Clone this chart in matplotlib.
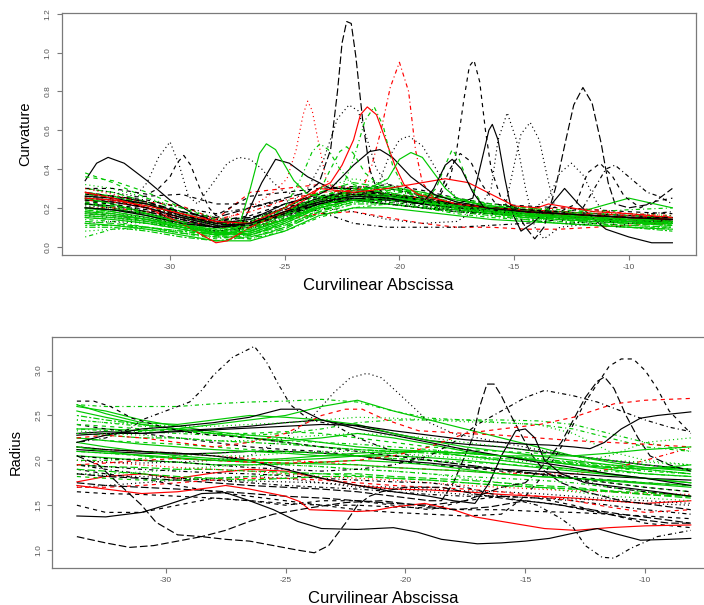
import matplotlib
matplotlib.use("Agg")
import matplotlib.pyplot as plt

plt.rcParams["font.family"] = ["Liberation Sans", "DejaVu Sans"]
plt.rcParams["axes.unicode_minus"] = False
plt.rcParams["lines.scale_dashes"] = False

# Shared abscissa knots (curvilinear abscissa)
KNOTS = [-33.7, -32.5, -31, -29.5, -28, -26.5, -25, -23.5, -22, -20.5, -19,
         -17.5, -16, -14.5, -13, -11.5, -10, -8.1]

# ---------------- Curvature profiles ----------------
# green group
curv_g01 = [0.22, 0.2, 0.16, 0.12, 0.08, 0.1, 0.18, 0.25, 0.28, 0.26, 0.24, 0.21, 0.19, 0.17, 0.16, 0.15, 0.14, 0.13]
curv_g02 = [0.18, 0.16, 0.13, 0.09, 0.06, 0.08, 0.15, 0.22, 0.26, 0.25, 0.22, 0.2, 0.18, 0.16, 0.15, 0.13, 0.12, 0.11]
curv_g03 = [0.26, 0.24, 0.2, 0.15, 0.1, 0.12, 0.2, 0.28, 0.3, 0.27, 0.24, 0.22, 0.2, 0.18, 0.17, 0.16, 0.15, 0.14]
curv_g04 = [0.14, 0.13, 0.1, 0.07, 0.04, 0.06, 0.12, 0.2, 0.24, 0.23, 0.21, 0.19, 0.17, 0.15, 0.13, 0.12, 0.1, 0.09]
curv_g05 = [0.3, 0.28, 0.23, 0.17, 0.12, 0.13, 0.2, 0.28, 0.33, 0.3, 0.27, 0.24, 0.21, 0.19, 0.17, 0.16, 0.15, 0.15]
curv_g06 = [0.1, 0.1, 0.08, 0.05, 0.03, 0.05, 0.1, 0.17, 0.22, 0.22, 0.2, 0.18, 0.16, 0.14, 0.12, 0.11, 0.1, 0.08]
curv_g07 = [0.2, 0.18, 0.15, 0.11, 0.07, 0.06, 0.12, 0.2, 0.24, 0.22, 0.2, 0.19, 0.17, 0.15, 0.14, 0.13, 0.12, 0.12]
curv_g08 = [0.38, 0.33, 0.25, 0.18, 0.12, 0.13, 0.18, 0.26, 0.3, 0.28, 0.25, 0.22, 0.2, 0.18, 0.16, 0.14, 0.12, 0.11]
curv_g09 = [0.16, 0.15, 0.12, 0.1, 0.08, 0.1, 0.16, 0.23, 0.27, 0.28, 0.25, 0.21, 0.18, 0.16, 0.14, 0.13, 0.13, 0.12]
curv_g10 = [0.05, 0.09, 0.1, 0.08, 0.05, 0.04, 0.08, 0.15, 0.2, 0.22, 0.2, 0.17, 0.15, 0.14, 0.12, 0.11, 0.1, 0.1]
curv_g16 = [0.12, 0.11, 0.09, 0.06, 0.03, 0.03, 0.08, 0.16, 0.2, 0.2, 0.18, 0.16, 0.14, 0.13, 0.12, 0.11, 0.1, 0.09]
curv_g17 = [0.24, 0.22, 0.18, 0.13, 0.08, 0.07, 0.12, 0.2, 0.26, 0.3, 0.27, 0.22, 0.19, 0.17, 0.16, 0.15, 0.14, 0.13]
curv_g18 = [0.32, 0.3, 0.25, 0.2, 0.15, 0.14, 0.2, 0.3, 0.35, 0.32, 0.27, 0.24, 0.22, 0.2, 0.18, 0.17, 0.17, 0.16]
curv_g19 = [0.2, 0.19, 0.17, 0.13, 0.09, 0.09, 0.14, 0.23, 0.3, 0.3, 0.26, 0.22, 0.2, 0.19, 0.18, 0.17, 0.16, 0.15]
curv_g20 = [0.13, 0.12, 0.1, 0.07, 0.05, 0.05, 0.09, 0.18, 0.25, 0.24, 0.22, 0.2, 0.18, 0.16, 0.14, 0.12, 0.11, 0.1]
curv_g21 = [0.28, 0.26, 0.22, 0.16, 0.11, 0.1, 0.14, 0.22, 0.28, 0.27, 0.24, 0.21, 0.19, 0.18, 0.17, 0.16, 0.15, 0.14]
curv_g22 = [0.17, 0.16, 0.14, 0.11, 0.09, 0.11, 0.17, 0.24, 0.29, 0.31, 0.28, 0.24, 0.21, 0.19, 0.17, 0.15, 0.14, 0.13]
curv_g23 = [0.22, 0.21, 0.17, 0.12, 0.06, 0.04, 0.1, 0.19, 0.23, 0.25, 0.23, 0.2, 0.18, 0.16, 0.15, 0.14, 0.13, 0.12]
curv_g24 = [0.08, 0.09, 0.09, 0.07, 0.05, 0.06, 0.11, 0.19, 0.23, 0.22, 0.2, 0.18, 0.16, 0.15, 0.13, 0.12, 0.11, 0.1]
curv_g25 = [0.27, 0.25, 0.21, 0.16, 0.12, 0.12, 0.17, 0.25, 0.31, 0.29, 0.26, 0.23, 0.21, 0.2, 0.19, 0.18, 0.19, 0.2]
curv_g26 = [0.19, 0.17, 0.14, 0.1, 0.06, 0.06, 0.11, 0.18, 0.23, 0.24, 0.22, 0.19, 0.17, 0.16, 0.15, 0.14, 0.12, 0.11]
curv_g27 = [0.15, 0.14, 0.12, 0.09, 0.06, 0.07, 0.13, 0.21, 0.26, 0.26, 0.23, 0.2, 0.18, 0.17, 0.16, 0.15, 0.14, 0.14]
curv_g28 = [0.36, 0.34, 0.28, 0.2, 0.14, 0.12, 0.16, 0.23, 0.28, 0.3, 0.28, 0.25, 0.22, 0.2, 0.18, 0.16, 0.14, 0.12]
curv_g29 = [0.11, 0.11, 0.1, 0.08, 0.06, 0.08, 0.14, 0.21, 0.26, 0.27, 0.24, 0.2, 0.17, 0.15, 0.14, 0.13, 0.12, 0.11]
curv_g30 = [0.16, 0.15, 0.13, 0.1, 0.07, 0.08, 0.14, 0.2, 0.24, 0.25, 0.23, 0.2, 0.18, 0.16, 0.15, 0.2, 0.25, 0.2]

curv_g11_x = [-33.7, -32.5, -31, -29.5, -28, -27, -26.5, -26.1, -25.8, -25.4, -25, -24.6, -24, -23, -22, -20.5, -19, -17.5, -16, -14.5, -13, -11.5, -10, -8.1]
curv_g11 = [0.25, 0.22, 0.17, 0.12, 0.07, 0.1, 0.3, 0.48, 0.53, 0.5, 0.42, 0.34, 0.27, 0.25, 0.26, 0.25, 0.22, 0.2, 0.18, 0.17, 0.15, 0.14, 0.13, 0.12]
curv_g12_x = [-33.7, -32.5, -31, -29.5, -28, -26.5, -25, -23.5, -22.5, -22, -21.5, -21.1, -20.7, -20.3, -19.8, -19, -17.5, -16, -14.5, -13, -11.5, -10, -8.1]
curv_g12 = [0.2, 0.19, 0.16, 0.11, 0.07, 0.09, 0.16, 0.25, 0.3, 0.45, 0.65, 0.72, 0.62, 0.42, 0.3, 0.25, 0.21, 0.18, 0.16, 0.15, 0.14, 0.13, 0.12]
curv_g13_x = [-33.7, -32.5, -31, -29.5, -28, -26.5, -25, -23.5, -22, -20.5, -20, -19.5, -19, -18.5, -18, -17.5, -16, -14.5, -13, -11.5, -10, -8.1]
curv_g13 = [0.18, 0.17, 0.14, 0.1, 0.07, 0.08, 0.14, 0.21, 0.26, 0.35, 0.45, 0.485, 0.46, 0.38, 0.3, 0.25, 0.2, 0.17, 0.15, 0.14, 0.13, 0.12]
curv_g14_x = [-33.7, -32.5, -31, -29.5, -28, -26.5, -25, -23.5, -22, -20.5, -19, -18.4, -18, -17.7, -17.4, -17, -16.5, -16, -14.5, -13, -11.5, -10, -8.1]
curv_g14 = [0.15, 0.14, 0.12, 0.09, 0.06, 0.07, 0.13, 0.2, 0.24, 0.24, 0.23, 0.3, 0.42, 0.5, 0.45, 0.33, 0.24, 0.2, 0.17, 0.15, 0.14, 0.13, 0.12]
curv_g15_x = [-33.7, -32.5, -31, -29.5, -28, -26.5, -25, -24.3, -23.8, -23.46, -23.1, -22.6, -22, -20.5, -19, -17.5, -16, -14.5, -13, -11.5, -10, -8.1]
curv_g15 = [0.19, 0.18, 0.15, 0.11, 0.07, 0.09, 0.2, 0.35, 0.49, 0.53, 0.5, 0.4, 0.32, 0.27, 0.23, 0.2, 0.18, 0.16, 0.15, 0.14, 0.13, 0.12]
curv_g31_x = [-33.7, -32.5, -31, -29.5, -28, -26.5, -25, -23.5, -23, -22.6, -22.3, -22, -21.5, -20.5, -19, -17.5, -16, -14.5, -13, -11.5, -10, -8.1]
curv_g31 = [0.23, 0.21, 0.17, 0.12, 0.08, 0.09, 0.16, 0.28, 0.4, 0.49, 0.515, 0.48, 0.38, 0.28, 0.24, 0.21, 0.19, 0.17, 0.16, 0.15, 0.14, 0.13]

# black group
curv_k01_x = [-33.7, -33.2, -32.7, -32, -31, -30, -29, -28, -27, -26, -25.4, -24.8, -24, -23, -22, -20.5, -19, -17.5, -16, -14.5, -13, -11.5, -10, -8.1]
curv_k01 = [0.34, 0.43, 0.46, 0.43, 0.34, 0.24, 0.17, 0.13, 0.08, 0.33, 0.45, 0.43, 0.36, 0.3, 0.3, 0.27, 0.24, 0.21, 0.2, 0.19, 0.18, 0.17, 0.16, 0.15]
curv_k02_x = [-33.7, -32.5, -31.5, -31, -30.5, -30, -29.6, -29.2, -28.8, -28.3, -27.5, -27, -26.5, -26, -25.5, -25, -23.5, -22, -20.5, -19, -17.5, -16, -14.5, -13, -11.5, -10, -8.1]
curv_k02 = [0.3, 0.28, 0.26, 0.33, 0.46, 0.54, 0.42, 0.26, 0.22, 0.3, 0.43, 0.46, 0.45, 0.4, 0.33, 0.28, 0.25, 0.24, 0.22, 0.2, 0.19, 0.17, 0.16, 0.15, 0.14, 0.13, 0.12]
curv_k03_x = [-33.7, -32.5, -31, -30.5, -30, -29.7, -29.4, -29.1, -28.7, -28.3, -28, -26.5, -25, -23.5, -22, -20.5, -19, -17.5, -16, -14.5, -13, -11.5, -10, -8.1]
curv_k03 = [0.3, 0.3, 0.27, 0.3, 0.36, 0.43, 0.47, 0.42, 0.3, 0.2, 0.16, 0.26, 0.28, 0.3, 0.31, 0.3, 0.26, 0.22, 0.2, 0.19, 0.18, 0.17, 0.16, 0.15]
curv_k04_x = [-33.7, -32.5, -31, -29.5, -28, -26.5, -25, -24, -23.5, -23.0, -22.7, -22.5, -22.3, -22.1, -21.9, -21.6, -21.3, -21, -20.5, -19, -17.5, -16, -14.5, -13, -11.5, -10, -8.1]
curv_k04 = [0.25, 0.24, 0.22, 0.18, 0.15, 0.2, 0.25, 0.28, 0.33, 0.5, 0.8, 1.05, 1.16, 1.15, 0.98, 0.65, 0.4, 0.3, 0.27, 0.25, 0.22, 0.2, 0.18, 0.17, 0.16, 0.15, 0.14]
curv_k05_x = [-33.7, -32.5, -31, -29.5, -28, -26.5, -25, -23.5, -22, -20.5, -19, -18.3, -17.8, -17.5, -17.2, -16.95, -16.75, -16.5, -16.25, -16.0, -15.6, -15, -14.5, -13, -11.5, -10, -8.1]
curv_k05 = [0.27, 0.26, 0.23, 0.17, 0.11, 0.12, 0.18, 0.24, 0.27, 0.26, 0.26, 0.25, 0.35, 0.5, 0.75, 0.93, 0.96, 0.85, 0.6, 0.4, 0.26, 0.2, 0.18, 0.16, 0.15, 0.14, 0.13]
curv_k06_x = [-33.7, -32.5, -31, -29.5, -28, -26.5, -25, -23.5, -22, -20.5, -19, -17.5, -16, -15, -14.5, -14.1, -13.7, -13.2, -12.8, -12.4, -12.0, -11.6, -11.2, -10.9, -10.6, -10, -9, -8.1]
curv_k06 = [0.22, 0.21, 0.18, 0.14, 0.1, 0.11, 0.16, 0.22, 0.25, 0.24, 0.22, 0.2, 0.18, 0.2, 0.1, 0.04, 0.1, 0.3, 0.52, 0.73, 0.82, 0.74, 0.53, 0.33, 0.22, 0.2, 0.22, 0.3]
curv_k07_x = [-33.7, -32.5, -31, -29.5, -28, -26.5, -25, -23.5, -22, -20.5, -19, -17.5, -16.8, -16.4, -16.1, -15.95, -15.7, -15.4, -15.1, -14.7, -14.2, -13.5, -12.8, -12.2, -11.5, -11, -10, -9, -8.1]
curv_k07 = [0.24, 0.23, 0.2, 0.15, 0.11, 0.12, 0.17, 0.22, 0.24, 0.24, 0.23, 0.22, 0.25, 0.45, 0.6, 0.63, 0.55, 0.35, 0.18, 0.08, 0.12, 0.2, 0.3, 0.22, 0.14, 0.09, 0.05, 0.02, 0.02]
curv_k08_x = [-33.7, -32.5, -31, -29.5, -28, -26.5, -25, -23.5, -22, -20.5, -19, -17.5, -16.5, -16, -15.7, -15.3, -14.9, -14.5, -14.1, -13.7, -13, -11.5, -10, -8.1]
curv_k08 = [0.18, 0.17, 0.15, 0.12, 0.1, 0.12, 0.16, 0.2, 0.18, 0.14, 0.12, 0.13, 0.2, 0.3, 0.55, 0.69, 0.55, 0.3, 0.1, 0.04, 0.1, 0.12, 0.13, 0.12]
curv_k09_x = [-33.7, -32.5, -31, -29.5, -28, -26.5, -25, -23.5, -22, -20.5, -19, -17.5, -16, -15.4, -15, -14.7, -14.3, -13.9, -13.5, -13.1, -12.7, -11.5, -10, -8.1]
curv_k09 = [0.2, 0.19, 0.17, 0.14, 0.12, 0.13, 0.18, 0.23, 0.25, 0.23, 0.21, 0.19, 0.17, 0.2, 0.42, 0.58, 0.64, 0.55, 0.33, 0.15, 0.12, 0.13, 0.14, 0.14]
curv_k10_x = [-33.7, -32.5, -31, -29.5, -28, -26.5, -25, -24, -23.3, -22.7, -22.2, -21.8, -21.4, -21, -20.5, -19, -17.5, -16, -14.5, -13, -11.5, -10, -8.1]
curv_k10 = [0.22, 0.21, 0.19, 0.15, 0.12, 0.14, 0.2, 0.3, 0.45, 0.66, 0.73, 0.7, 0.55, 0.4, 0.32, 0.26, 0.22, 0.2, 0.18, 0.17, 0.16, 0.15, 0.15]
curv_k11_x = [-33.7, -32.5, -31, -29.5, -28, -26.5, -25, -23.5, -22, -21, -20.5, -20, -19.6, -19, -18.5, -18, -17.5, -16, -14.5, -13, -11.5, -10, -8.1]
curv_k11 = [0.16, 0.15, 0.13, 0.1, 0.08, 0.1, 0.15, 0.22, 0.26, 0.3, 0.45, 0.55, 0.57, 0.52, 0.42, 0.32, 0.25, 0.2, 0.17, 0.15, 0.14, 0.13, 0.12]
curv_k12_x = [-33.7, -32.5, -31, -29.5, -28, -26.5, -25, -23.5, -23, -22, -21.3, -20.85, -20.3, -19.5, -18.5, -17.5, -16, -14.5, -13, -11.5, -10, -8.1]
curv_k12 = [0.26, 0.25, 0.22, 0.16, 0.12, 0.14, 0.22, 0.27, 0.3, 0.42, 0.49, 0.5, 0.46, 0.36, 0.27, 0.23, 0.2, 0.18, 0.17, 0.16, 0.15, 0.14]
curv_k13_x = [-33.7, -32.5, -31, -29.5, -28, -26.5, -25, -23.5, -22, -20.5, -19, -17.5, -16, -14.5, -13, -12.3, -11.8, -11.25, -10.7, -10.2, -9.5, -9, -8.1]
curv_k13 = [0.24, 0.23, 0.2, 0.15, 0.13, 0.16, 0.22, 0.26, 0.28, 0.27, 0.24, 0.22, 0.2, 0.19, 0.18, 0.22, 0.38, 0.43, 0.36, 0.26, 0.2, 0.23, 0.25]
curv_k14_x = [-33.7, -32.5, -31, -29.5, -28, -26.5, -25, -23.5, -22, -20.5, -19, -17.5, -16, -14.5, -13.5, -13, -12.5, -12, -11.5, -11, -10.5, -10, -8.1]
curv_k14 = [0.21, 0.2, 0.18, 0.14, 0.11, 0.13, 0.19, 0.24, 0.26, 0.25, 0.22, 0.2, 0.18, 0.17, 0.25, 0.38, 0.43, 0.37, 0.25, 0.15, 0.1, 0.12, 0.14]
curv_k15_x = [-33.7, -32.5, -31, -29.5, -28, -26.5, -25, -23.5, -22, -20.5, -19, -17.5, -16, -14.5, -13, -12, -11.5, -11, -10.6, -10.2, -9.7, -9.2, -8.7, -8.1]
curv_k15 = [0.25, 0.24, 0.2, 0.16, 0.13, 0.15, 0.2, 0.25, 0.27, 0.25, 0.22, 0.2, 0.19, 0.18, 0.17, 0.2, 0.3, 0.4, 0.42, 0.38, 0.33, 0.28, 0.26, 0.22]
curv_k16 = [0.27, 0.26, 0.24, 0.2, 0.17, 0.2, 0.24, 0.18, 0.12, 0.1, 0.1, 0.1, 0.11, 0.12, 0.14, 0.15, 0.16, 0.18]
curv_k17_x = [-33.7, -32.5, -31, -29.5, -28, -26.5, -25, -23.5, -22, -20.5, -19, -18.5, -18, -17.7, -17.3, -16.8, -16.3, -14.5, -13, -11.5, -10, -8.1]
curv_k17 = [0.2, 0.19, 0.16, 0.12, 0.1, 0.12, 0.18, 0.23, 0.26, 0.25, 0.22, 0.3, 0.42, 0.45, 0.4, 0.28, 0.2, 0.18, 0.17, 0.16, 0.15, 0.14]
curv_k18_x = [-33.7, -32.5, -31, -29.5, -28, -26.5, -25, -23.5, -22, -20.5, -19, -18.3, -17.8, -17.35, -16.9, -16.4, -15.8, -14.5, -13, -11.5, -10, -8.1]
curv_k18 = [0.23, 0.22, 0.19, 0.14, 0.1, 0.11, 0.17, 0.23, 0.25, 0.24, 0.22, 0.26, 0.4, 0.48, 0.44, 0.32, 0.22, 0.19, 0.17, 0.16, 0.15, 0.15]
curv_k19 = [0.2, 0.19, 0.17, 0.13, 0.1, 0.11, 0.17, 0.24, 0.27, 0.26, 0.24, 0.22, 0.2, 0.19, 0.17, 0.16, 0.15, 0.14]
curv_k20 = [0.26, 0.25, 0.22, 0.17, 0.13, 0.12, 0.16, 0.22, 0.26, 0.25, 0.23, 0.21, 0.19, 0.18, 0.16, 0.15, 0.14, 0.13]
curv_k21 = [0.22, 0.25, 0.26, 0.27, 0.22, 0.22, 0.2, 0.24, 0.3, 0.32, 0.29, 0.25, 0.22, 0.21, 0.2, 0.19, 0.18, 0.17]
curv_k22 = [0.12, 0.13, 0.12, 0.1, 0.08, 0.09, 0.14, 0.2, 0.24, 0.22, 0.2, 0.18, 0.17, 0.16, 0.15, 0.14, 0.13, 0.12]
curv_k23 = [0.28, 0.26, 0.23, 0.18, 0.14, 0.15, 0.19, 0.25, 0.29, 0.27, 0.24, 0.21, 0.19, 0.17, 0.16, 0.14, 0.13, 0.13]
curv_k24 = [0.17, 0.16, 0.14, 0.12, 0.1, 0.12, 0.18, 0.22, 0.24, 0.22, 0.2, 0.18, 0.17, 0.16, 0.15, 0.14, 0.14, 0.13]

# red group
curv_r01_x = [-33.7, -32.5, -31, -29.5, -28, -26.5, -25.5, -24.9, -24.5, -24.2, -24.0, -23.8, -23.5, -23.2, -22.8, -22, -20.5, -19, -17.5, -16, -14.5, -13, -11.5, -10, -8.1]
curv_r01 = [0.3, 0.27, 0.22, 0.17, 0.12, 0.2, 0.28, 0.35, 0.5, 0.68, 0.75, 0.7, 0.52, 0.35, 0.28, 0.27, 0.25, 0.22, 0.2, 0.18, 0.17, 0.16, 0.15, 0.14, 0.13]
curv_r02_x = [-33.7, -32.5, -31, -29.5, -28, -26.5, -25, -23.5, -22, -21.6, -21.2, -20.8, -20.4, -20.0, -19.6, -19.3, -19.0, -18.5, -17.5, -16, -14.5, -13, -11.5, -10, -8.1]
curv_r02 = [0.24, 0.23, 0.2, 0.16, 0.14, 0.18, 0.24, 0.28, 0.29, 0.3, 0.42, 0.6, 0.82, 0.95, 0.8, 0.5, 0.33, 0.25, 0.22, 0.2, 0.19, 0.18, 0.17, 0.16, 0.15]
curv_r03_x = [-33.7, -32.5, -31, -29.5, -28, -27.5, -26.5, -25, -24, -23.5, -23, -22.5, -22.0, -21.7, -21.4, -21.0, -20.6, -20.2, -19.8, -19.2, -17.5, -16, -14.5, -13, -11.5, -10, -8.1]
curv_r03 = [0.28, 0.25, 0.2, 0.12, 0.02, 0.03, 0.1, 0.18, 0.25, 0.3, 0.33, 0.42, 0.55, 0.68, 0.72, 0.68, 0.55, 0.42, 0.32, 0.27, 0.22, 0.2, 0.18, 0.17, 0.16, 0.15, 0.14]
curv_r04_x = [-33.7, -32.5, -31, -29.5, -28, -26.5, -25, -23.5, -22, -20.5, -19, -18, -17, -16, -15, -14, -13.5, -12.5, -11.5, -10, -8.1]
curv_r04 = [0.25, 0.24, 0.21, 0.17, 0.13, 0.12, 0.2, 0.3, 0.28, 0.3, 0.33, 0.35, 0.33, 0.27, 0.21, 0.2, 0.22, 0.2, 0.18, 0.17, 0.15]
curv_r05 = [0.27, 0.26, 0.23, 0.21, 0.14, 0.28, 0.3, 0.32, 0.3, 0.27, 0.25, 0.22, 0.2, 0.18, 0.17, 0.16, 0.15, 0.15]
curv_r06 = [0.28, 0.25, 0.2, 0.14, 0.1, 0.1, 0.14, 0.17, 0.18, 0.15, 0.12, 0.1, 0.1, 0.09, 0.09, 0.1, 0.11, 0.12]
curv_r07 = [0.2, 0.2, 0.18, 0.15, 0.12, 0.12, 0.17, 0.24, 0.28, 0.27, 0.25, 0.22, 0.2, 0.19, 0.2, 0.19, 0.17, 0.16]

# ---------------- Radius profiles ----------------
# green group
rad_g01 = [2.62, 2.6, 2.6, 2.6, 2.63, 2.65, 2.66, 2.68, 2.65, 2.55, 2.47, 2.45, 2.45, 2.44, 2.4, 2.3, 2.2, 2.1]
rad_g02 = [2.6, 2.55, 2.45, 2.38, 2.32, 2.28, 2.25, 2.2, 2.15, 2.12, 2.1, 2.05, 2.0, 1.95, 1.9, 1.85, 1.8, 1.75]
rad_g03 = [2.62, 2.52, 2.42, 2.4, 2.45, 2.5, 2.48, 2.45, 2.4, 2.3, 2.22, 2.15, 2.1, 2.05, 2.0, 1.95, 1.92, 1.9]
rad_g04 = [2.55, 2.48, 2.4, 2.35, 2.3, 2.25, 2.22, 2.25, 2.3, 2.25, 2.18, 2.1, 2.05, 2.0, 1.95, 1.9, 1.85, 1.82]
rad_g05 = [2.35, 2.35, 2.33, 2.35, 2.4, 2.45, 2.5, 2.6, 2.67, 2.55, 2.45, 2.35, 2.25, 2.15, 2.05, 1.98, 1.92, 1.88]
rad_g06 = [2.45, 2.42, 2.4, 2.38, 2.38, 2.4, 2.42, 2.45, 2.48, 2.47, 2.45, 2.43, 2.42, 2.4, 2.3, 2.1, 2.0, 1.95]
rad_g07 = [2.25, 2.22, 2.2, 2.18, 2.15, 2.12, 2.1, 2.08, 2.05, 2.02, 2.0, 1.95, 1.9, 1.85, 1.8, 1.75, 1.7, 1.65]
rad_g08 = [2.1, 2.08, 2.05, 2.02, 2.0, 1.98, 1.95, 1.93, 1.9, 1.88, 1.85, 1.82, 1.8, 1.78, 1.75, 1.7, 1.65, 1.6]
rad_g09 = [1.95, 1.93, 1.92, 1.9, 1.9, 1.88, 1.87, 1.85, 1.85, 1.82, 1.8, 1.78, 1.75, 1.72, 1.7, 1.66, 1.62, 1.58]
rad_g10 = [2.3, 2.28, 2.25, 2.25, 2.22, 2.2, 2.18, 2.15, 2.12, 2.1, 2.08, 2.05, 2.02, 2.0, 1.97, 1.93, 1.9, 1.85]
rad_g11 = [2.2, 2.15, 2.1, 2.05, 2.02, 2.0, 2.0, 2.02, 2.05, 2.05, 2.03, 2.0, 1.96, 1.92, 1.88, 1.84, 1.8, 1.75]
rad_g12 = [1.85, 1.85, 1.87, 1.9, 1.93, 1.95, 1.95, 1.93, 1.9, 1.88, 1.85, 1.8, 1.75, 1.7, 1.65, 1.6, 1.58, 1.55]
rad_g13 = [2.4, 2.38, 2.35, 2.32, 2.3, 2.3, 2.32, 2.3, 2.25, 2.2, 2.15, 2.12, 2.1, 2.08, 2.05, 2.0, 1.95, 1.9]
rad_g14 = [2.0, 2.0, 2.02, 2.05, 2.08, 2.1, 2.1, 2.08, 2.05, 2.02, 2.0, 1.98, 1.96, 1.93, 1.9, 1.88, 1.85, 1.82]
rad_g15 = [2.05, 2.03, 2.0, 1.98, 1.95, 1.95, 1.96, 1.98, 2.0, 1.98, 1.95, 1.9, 1.85, 1.82, 1.8, 1.78, 1.75, 1.72]
rad_g16 = [2.15, 2.12, 2.1, 2.08, 2.05, 2.05, 2.08, 2.1, 2.1, 2.08, 2.05, 2.02, 2.0, 1.98, 1.98, 2.05, 2.2, 2.25]
rad_g17 = [2.35, 2.33, 2.32, 2.3, 2.28, 2.28, 2.3, 2.35, 2.42, 2.45, 2.45, 2.45, 2.42, 2.4, 2.35, 2.25, 2.15, 2.1]
rad_g18 = [1.9, 1.88, 1.85, 1.82, 1.8, 1.78, 1.8, 1.82, 1.82, 1.8, 1.78, 1.75, 1.72, 1.7, 1.68, 1.65, 1.62, 1.6]
rad_g19 = [2.5, 2.45, 2.4, 2.35, 2.3, 2.25, 2.2, 2.15, 2.12, 2.1, 2.1, 2.08, 2.05, 2.02, 1.98, 1.95, 1.9, 1.85]
rad_g20 = [2.25, 2.22, 2.18, 2.15, 2.12, 2.1, 2.08, 2.05, 2.05, 2.08, 2.1, 2.08, 2.05, 2.0, 1.95, 1.92, 1.9, 1.95]
rad_g21 = [1.82, 1.8, 1.78, 1.78, 1.8, 1.82, 1.85, 1.85, 1.83, 1.8, 1.78, 1.75, 1.72, 1.7, 1.68, 1.66, 1.64, 1.6]
rad_g22 = [2.45, 2.42, 2.38, 2.35, 2.3, 2.25, 2.22, 2.2, 2.18, 2.15, 2.12, 2.08, 2.05, 2.0, 1.96, 1.92, 1.88, 1.85]
rad_g23 = [2.15, 2.1, 2.05, 2.02, 2.0, 1.98, 1.97, 1.96, 1.95, 1.92, 1.9, 1.88, 1.85, 1.82, 1.8, 1.77, 1.74, 1.7]
rad_g24 = [2.33, 2.3, 2.28, 2.25, 2.22, 2.22, 2.25, 2.28, 2.3, 2.28, 2.25, 2.2, 2.15, 2.1, 2.05, 2.0, 1.98, 1.95]
rad_g25 = [2.1, 2.08, 2.06, 2.03, 2.0, 2.0, 2.02, 2.05, 2.08, 2.1, 2.1, 2.08, 2.05, 2.05, 2.05, 2.08, 2.12, 2.15]

# black group
rad_k01_x = [-33.7, -32.5, -31.5, -31, -30, -29, -28.5, -28, -27.2, -26.3, -25.8, -25.3, -24.8, -24, -23, -22, -20.5, -19, -17.5, -16, -14.5, -13, -11.5, -10, -8.1]
rad_k01 = [2.2, 2.25, 2.35, 2.45, 2.55, 2.65, 2.78, 2.95, 3.15, 3.27, 3.1, 2.85, 2.62, 2.45, 2.4, 2.25, 2.1, 2.0, 1.95, 1.9, 1.85, 1.8, 1.7, 1.65, 1.6]
rad_k02_x = [-33.7, -32.5, -31, -29.5, -28, -26.5, -25, -24, -23, -22.3, -21.6, -21, -20.3, -19.5, -19, -18, -17, -16, -14.5, -13, -11.5, -10, -8.1]
rad_k02 = [2.0, 1.98, 1.97, 1.98, 2.0, 2.05, 2.25, 2.45, 2.75, 2.92, 2.97, 2.92, 2.75, 2.55, 2.42, 2.3, 2.25, 2.2, 2.12, 2.05, 2.0, 1.95, 1.9]
rad_k03_x = [-33.7, -32.5, -31, -29.5, -28, -26.5, -25, -23.5, -22, -20.5, -19, -18.5, -18, -17.6, -17.2, -16.9, -16.6, -16.3, -16, -15.6, -15.2, -14.7, -14.2, -13.5, -12.5, -11, -9.5, -8.1]
rad_k03 = [1.85, 1.82, 1.8, 1.78, 1.75, 1.72, 1.7, 1.68, 1.65, 1.6, 1.55, 1.55, 1.75, 2.0, 2.25, 2.6, 2.85, 2.85, 2.72, 2.5, 2.3, 2.05, 1.88, 1.75, 1.65, 1.55, 1.5, 1.45]
rad_k04_x = [-33.7, -32.5, -31, -29.5, -28, -26.5, -25, -23.5, -22, -20.5, -19, -17.5, -16, -15, -14.2, -13.5, -13, -12.5, -12, -11.5, -11, -10.5, -10, -9.5, -9, -8.1]
rad_k04 = [1.9, 1.85, 1.8, 1.72, 1.65, 1.6, 1.55, 1.5, 1.45, 1.42, 1.4, 1.38, 1.4, 1.6, 1.85, 2.15, 2.4, 2.65, 2.85, 3.05, 3.13, 3.13, 3.0, 2.8, 2.55, 2.3]
rad_k05_x = [-33.7, -32.5, -31, -29.5, -28, -26.5, -25, -23.5, -22, -20.5, -19, -17.5, -16, -15, -14.4, -13.5, -13, -12.5, -12, -11.7, -11.3, -10.8, -10.3, -9.8, -9, -8.1]
rad_k05 = [1.75, 1.72, 1.7, 1.68, 1.66, 1.63, 1.6, 1.58, 1.55, 1.52, 1.5, 1.55, 1.7, 1.75, 1.9, 2.2, 2.45, 2.7, 2.88, 2.93, 2.8, 2.5, 2.25, 2.05, 1.95, 1.88]
rad_k06_x = [-33.7, -32.5, -31, -29.5, -28, -26.5, -25, -23.5, -22, -20.5, -19, -18, -17, -16, -15, -14.2, -13, -12, -11, -10, -9, -8.1]
rad_k06 = [2.05, 2.02, 2.0, 1.98, 1.95, 1.92, 1.9, 1.88, 1.9, 1.95, 2.05, 2.2, 2.4, 2.55, 2.7, 2.78, 2.72, 2.65, 2.55, 2.45, 2.37, 2.32]
rad_k07_x = [-33.7, -32.5, -31, -29.5, -28, -26.5, -25, -23.5, -22, -20.5, -19, -17.5, -16, -14.5, -13.5, -13, -12.5, -11.8, -11.3, -10.6, -9.5, -8.1]
rad_k07 = [1.95, 1.93, 1.9, 1.88, 1.86, 1.85, 1.83, 1.8, 1.78, 1.76, 1.75, 1.7, 1.6, 1.5, 1.35, 1.25, 1.05, 0.92, 0.91, 1.02, 1.15, 1.22]
rad_k08_x = [-33.7, -32.5, -31, -29.5, -28, -26.5, -25, -23.5, -22, -20.5, -19, -17.5, -16, -15, -14, -13, -12.3, -11.7, -11, -10.2, -9.5, -8.1]
rad_k08 = [2.28, 2.3, 2.3, 2.32, 2.34, 2.36, 2.38, 2.4, 2.39, 2.33, 2.28, 2.23, 2.2, 2.18, 2.17, 2.15, 2.13, 2.2, 2.35, 2.47, 2.5, 2.54]
rad_k09_x = [-33.7, -32.5, -31, -30, -28.5, -27.5, -26.5, -25.5, -24.5, -23.5, -22, -20.5, -19.5, -18.5, -17, -16, -15, -14, -12.8, -12, -11.2, -10.2, -9, -8.1]
rad_k09 = [1.38, 1.37, 1.42, 1.5, 1.63, 1.64, 1.55, 1.45, 1.32, 1.24, 1.23, 1.25, 1.2, 1.12, 1.07, 1.08, 1.1, 1.13, 1.2, 1.24, 1.18, 1.11, 1.12, 1.13]
rad_k10_x = [-33.7, -32.5, -31.5, -30.5, -29.5, -28.5, -27.5, -26.5, -25.5, -24.5, -23.8, -23.2, -22.5, -22, -21.5, -21, -20, -18.5, -17, -15.5, -14, -12.5, -11, -9.5, -8.1]
rad_k10 = [1.15, 1.08, 1.03, 1.05, 1.1, 1.15, 1.12, 1.1, 1.05, 1.0, 0.97, 1.05, 1.3, 1.5, 1.6, 1.65, 1.7, 1.7, 1.62, 1.56, 1.52, 1.46, 1.4, 1.35, 1.3]
rad_k11_x = [-33.7, -32.5, -31, -29.5, -28, -26.5, -25, -23.5, -22, -20.5, -19, -18, -17.1, -16.5, -16, -15.4, -15, -14.6, -14.2, -13.5, -12.5, -11, -9.5, -8.1]
rad_k11 = [2.15, 2.12, 2.1, 2.08, 2.05, 2.0, 1.9, 1.8, 1.72, 1.65, 1.6, 1.55, 1.52, 1.75, 2.05, 2.33, 2.35, 2.25, 2.0, 1.85, 1.75, 1.7, 1.65, 1.6]
rad_k12_x = [-33.7, -32.8, -32, -31, -30.4, -29.5, -28.5, -27.5, -26.5, -25.5, -24, -22.5, -21, -19.5, -18, -16.5, -15, -13.5, -12, -10.5, -9, -8.1]
rad_k12 = [2.05, 1.95, 1.75, 1.5, 1.31, 1.17, 1.15, 1.22, 1.32, 1.4, 1.47, 1.53, 1.55, 1.5, 1.45, 1.48, 1.55, 1.5, 1.42, 1.35, 1.3, 1.3]
rad_k13 = [1.5, 1.42, 1.42, 1.5, 1.58, 1.55, 1.5, 1.55, 1.55, 1.5, 1.45, 1.55, 1.6, 1.58, 1.5, 1.4, 1.3, 1.25]
rad_k14 = [2.3, 2.32, 2.3, 2.33, 2.35, 2.38, 2.42, 2.45, 2.38, 2.3, 2.22, 2.18, 2.15, 2.1, 2.05, 2.0, 1.95, 1.9]
rad_k15_x = [-33.7, -32.5, -31, -29.5, -28, -26.5, -25.2, -24.4, -23.5, -22, -20.5, -19, -17.5, -16, -14.5, -13, -11.5, -10, -8.1]
rad_k15 = [2.2, 2.28, 2.35, 2.38, 2.42, 2.48, 2.57, 2.57, 2.45, 2.35, 2.28, 2.2, 2.12, 2.05, 1.98, 1.92, 1.85, 1.8, 1.72]
rad_k16_x = [-33.7, -33, -32.3, -31.4, -30.5, -29.3, -28, -26.5, -25, -23.5, -22, -20.5, -19, -17.5, -16, -14.5, -13, -11.5, -10, -8.1]
rad_k16 = [2.66, 2.66, 2.6, 2.47, 2.4, 2.32, 2.28, 2.25, 2.2, 2.15, 2.1, 2.05, 2.0, 1.95, 1.9, 1.85, 1.8, 1.75, 1.7, 1.65]
rad_k17 = [1.95, 1.9, 1.85, 1.8, 1.78, 1.75, 1.72, 1.7, 1.68, 1.65, 1.62, 1.6, 1.6, 1.58, 1.55, 1.5, 1.45, 1.4]
rad_k18 = [1.85, 1.83, 1.82, 1.8, 1.78, 1.77, 1.76, 1.75, 1.72, 1.7, 1.68, 1.66, 1.65, 1.63, 1.6, 1.57, 1.55, 1.52]
rad_k19 = [1.65, 1.63, 1.62, 1.6, 1.58, 1.55, 1.52, 1.5, 1.5, 1.48, 1.47, 1.45, 1.45, 1.43, 1.42, 1.4, 1.38, 1.35]
rad_k20 = [2.12, 2.1, 2.08, 2.07, 2.08, 2.1, 2.1, 2.08, 2.05, 2.0, 1.97, 1.93, 1.9, 1.88, 1.85, 1.82, 1.8, 1.78]
rad_k21 = [2.4, 2.35, 2.3, 2.25, 2.2, 2.15, 2.12, 2.1, 2.05, 2.0, 1.95, 1.92, 1.88, 1.85, 1.82, 1.78, 1.75, 1.72]
rad_k22 = [1.7, 1.72, 1.75, 1.78, 1.8, 1.82, 1.8, 1.75, 1.7, 1.68, 1.65, 1.62, 1.6, 1.58, 1.57, 1.55, 1.52, 1.5]

# red group
rad_r01_x = [-33.7, -32.5, -31, -29.5, -28, -27.5, -26.5, -25, -24.4, -24, -22, -21.3, -20.5, -19.2, -18, -17.1, -16, -14.2, -12.9, -11.5, -10, -8.1]
rad_r01 = [1.72, 1.68, 1.63, 1.65, 1.7, 1.72, 1.68, 1.6, 1.54, 1.45, 1.43, 1.44, 1.48, 1.52, 1.45, 1.37, 1.32, 1.24, 1.22, 1.25, 1.27, 1.28]
rad_r02 = [1.76, 1.82, 1.85, 1.8, 1.86, 1.9, 1.88, 1.8, 1.72, 1.68, 1.67, 1.65, 1.62, 1.6, 1.58, 1.55, 1.52, 1.55]
rad_r03_x = [-33.7, -32.5, -31, -29.5, -28, -26.5, -25, -23.5, -22.5, -21.8, -20.9, -19.45, -17.5, -16, -14.5, -13, -11.5, -10, -8.1]
rad_r03 = [2.25, 2.28, 2.25, 2.2, 2.15, 2.2, 2.3, 2.5, 2.57, 2.57, 2.46, 2.33, 2.3, 2.28, 2.25, 2.22, 2.2, 2.18, 2.15]
rad_r04_x = [-33.7, -32.5, -31, -29.5, -28, -26.5, -25, -23.5, -22, -20.5, -19, -17.5, -16, -14.4, -13, -11.3, -10, -8.1]
rad_r04 = [1.95, 1.97, 2.0, 2.02, 2.0, 1.98, 1.97, 1.98, 2.0, 2.05, 2.15, 2.3, 2.35, 2.4, 2.48, 2.63, 2.67, 2.69]
rad_r05 = [2.15, 2.12, 2.1, 2.08, 2.05, 2.02, 2.0, 1.98, 1.95, 1.92, 1.9, 1.88, 1.86, 1.85, 1.85, 1.9, 2.0, 2.14]
rad_r06 = [2.0, 1.98, 1.95, 1.92, 1.9, 1.88, 1.85, 1.82, 1.8, 1.78, 1.75, 1.72, 1.7, 1.68, 1.66, 1.65, 1.63, 1.62]
rad_r07 = [1.7, 1.7, 1.72, 1.75, 1.78, 1.8, 1.8, 1.78, 1.75, 1.72, 1.7, 1.68, 1.65, 1.6, 1.55, 1.48, 1.42, 1.45]

# ---------------- styling ----------------
COLORS = {"black": "#000000", "red": "#FF0000", "green": "#00C800"}
LTY = {
    "solid": "-",
    "dashed": (0, (3.0, 3.0)),
    "dotted": (0, (0.8, 2.2)),
    "dotdash": (0, (0.8, 2.2, 3.0, 2.2)),
    "longdash": (0, (5.5, 2.2)),
    "twodash": (0, (1.5, 1.5, 4.5, 1.5)),
}

curvature_black = [
    (KNOTS, curv_k19, "black", "solid"), (KNOTS, curv_k20, "black", "dashed"),
    (KNOTS, curv_k21, "black", "dashed"), (KNOTS, curv_k22, "black", "dotted"),
    (KNOTS, curv_k23, "black", "longdash"), (KNOTS, curv_k24, "black", "dotdash"),
    (KNOTS, curv_k16, "black", "dotdash"),
    (curv_k01_x, curv_k01, "black", "solid"), (curv_k02_x, curv_k02, "black", "dotted"),
    (curv_k03_x, curv_k03, "black", "dashed"), (curv_k04_x, curv_k04, "black", "longdash"),
    (curv_k05_x, curv_k05, "black", "dashed"), (curv_k06_x, curv_k06, "black", "longdash"),
    (curv_k07_x, curv_k07, "black", "solid"), (curv_k08_x, curv_k08, "black", "dotted"),
    (curv_k09_x, curv_k09, "black", "dotted"), (curv_k10_x, curv_k10, "black", "dotted"),
    (curv_k11_x, curv_k11, "black", "dotted"), (curv_k12_x, curv_k12, "black", "solid"),
    (curv_k13_x, curv_k13, "black", "dashed"), (curv_k14_x, curv_k14, "black", "dotted"),
    (curv_k15_x, curv_k15, "black", "dotdash"), (curv_k17_x, curv_k17, "black", "solid"),
    (curv_k18_x, curv_k18, "black", "dashed"),
]
curvature_green = [
    (KNOTS, curv_g01, "green", "solid"), (KNOTS, curv_g02, "green", "dashed"),
    (KNOTS, curv_g03, "green", "dotted"), (KNOTS, curv_g04, "green", "dotdash"),
    (KNOTS, curv_g05, "green", "longdash"), (KNOTS, curv_g06, "green", "twodash"),
    (KNOTS, curv_g07, "green", "solid"), (KNOTS, curv_g08, "green", "dashed"),
    (KNOTS, curv_g09, "green", "dotted"), (KNOTS, curv_g10, "green", "dotdash"),
    (KNOTS, curv_g16, "green", "solid"), (KNOTS, curv_g17, "green", "dashed"),
    (KNOTS, curv_g18, "green", "dotted"), (KNOTS, curv_g19, "green", "dotdash"),
    (KNOTS, curv_g20, "green", "longdash"), (KNOTS, curv_g21, "green", "twodash"),
    (KNOTS, curv_g22, "green", "solid"), (KNOTS, curv_g23, "green", "dashed"),
    (KNOTS, curv_g24, "green", "dotted"), (KNOTS, curv_g25, "green", "dotdash"),
    (KNOTS, curv_g26, "green", "longdash"), (KNOTS, curv_g27, "green", "solid"),
    (KNOTS, curv_g28, "green", "dashed"), (KNOTS, curv_g29, "green", "twodash"),
    (KNOTS, curv_g30, "green", "solid"),
    (curv_g11_x, curv_g11, "green", "solid"), (curv_g12_x, curv_g12, "green", "dotdash"),
    (curv_g13_x, curv_g13, "green", "solid"), (curv_g14_x, curv_g14, "green", "dashed"),
    (curv_g15_x, curv_g15, "green", "dotdash"), (curv_g31_x, curv_g31, "green", "dashed"),
]
curvature_red = [
    (KNOTS, curv_r05, "red", "dashed"), (KNOTS, curv_r06, "red", "dashed"),
    (KNOTS, curv_r07, "red", "dotdash"),
    (curv_r01_x, curv_r01, "red", "dotted"), (curv_r02_x, curv_r02, "red", "dotdash"),
    (curv_r03_x, curv_r03, "red", "solid"), (curv_r04_x, curv_r04, "red", "solid"),
]

radius_black = [
    (KNOTS, rad_k13, "black", "dashed"), (KNOTS, rad_k14, "black", "solid"),
    (KNOTS, rad_k17, "black", "dotdash"), (KNOTS, rad_k18, "black", "dotted"),
    (KNOTS, rad_k19, "black", "dashed"), (KNOTS, rad_k20, "black", "solid"),
    (KNOTS, rad_k21, "black", "dashed"), (KNOTS, rad_k22, "black", "dotted"),
    (rad_k01_x, rad_k01, "black", "dotdash"), (rad_k02_x, rad_k02, "black", "dotted"),
    (rad_k03_x, rad_k03, "black", "longdash"), (rad_k04_x, rad_k04, "black", "dashed"),
    (rad_k05_x, rad_k05, "black", "longdash"), (rad_k06_x, rad_k06, "black", "dotdash"),
    (rad_k07_x, rad_k07, "black", "dotdash"), (rad_k08_x, rad_k08, "black", "solid"),
    (rad_k09_x, rad_k09, "black", "solid"), (rad_k10_x, rad_k10, "black", "longdash"),
    (rad_k11_x, rad_k11, "black", "solid"), (rad_k12_x, rad_k12, "black", "longdash"),
    (rad_k15_x, rad_k15, "black", "solid"), (rad_k16_x, rad_k16, "black", "dashed"),
]
radius_green = [
    (KNOTS, rad_g01, "green", "dotdash"), (KNOTS, rad_g02, "green", "solid"),
    (KNOTS, rad_g03, "green", "solid"), (KNOTS, rad_g04, "green", "solid"),
    (KNOTS, rad_g05, "green", "solid"), (KNOTS, rad_g06, "green", "dotted"),
    (KNOTS, rad_g07, "green", "dashed"), (KNOTS, rad_g08, "green", "dotdash"),
    (KNOTS, rad_g09, "green", "longdash"), (KNOTS, rad_g10, "green", "twodash"),
    (KNOTS, rad_g11, "green", "solid"), (KNOTS, rad_g12, "green", "dotted"),
    (KNOTS, rad_g13, "green", "dashed"), (KNOTS, rad_g14, "green", "dotdash"),
    (KNOTS, rad_g15, "green", "solid"), (KNOTS, rad_g16, "green", "dotted"),
    (KNOTS, rad_g17, "green", "dotdash"), (KNOTS, rad_g18, "green", "longdash"),
    (KNOTS, rad_g19, "green", "twodash"), (KNOTS, rad_g20, "green", "solid"),
    (KNOTS, rad_g21, "green", "dashed"), (KNOTS, rad_g22, "green", "dotdash"),
    (KNOTS, rad_g23, "green", "solid"), (KNOTS, rad_g24, "green", "dotted"),
    (KNOTS, rad_g25, "green", "solid"),
]
radius_red = [
    (KNOTS, rad_r02, "red", "solid"), (KNOTS, rad_r05, "red", "dotdash"),
    (KNOTS, rad_r06, "red", "dotted"), (KNOTS, rad_r07, "red", "dashed"),
    (rad_r01_x, rad_r01, "red", "solid"), (rad_r03_x, rad_r03, "red", "dashed"),
    (rad_r04_x, rad_r04, "red", "dashed"),
]


def interleave(*groups):
    """Mix the specimen groups evenly so no colour sits wholly on top."""
    keyed = []
    for g in groups:
        n = len(g)
        for j, item in enumerate(g):
            keyed.append(((j + 0.5) / n, item))
    keyed.sort(key=lambda t: t[0])
    return [item for _, item in keyed]


AXIS_GREY = "#7a7a7a"
TICK_TEXT = "#555555"


def draw_panel(ax, series, xlim, ylim, yticks, ylabels, ypad, xpad):
    for xs, ys, col, lty in series:
        ax.plot(xs, ys, color=COLORS[col], linestyle=LTY[lty], linewidth=0.85,
                solid_joinstyle="round", dash_capstyle="butt")
    ax.set_xlim(*xlim)
    ax.set_ylim(*ylim)
    ax.set_xticks([-30, -25, -20, -15, -10])
    ax.set_xticklabels(["-30", "-25", "-20", "-15", "-10"])
    ax.set_yticks(yticks)
    ax.set_yticklabels(ylabels, rotation=90, va="center")
    for side in ax.spines.values():
        side.set_color(AXIS_GREY)
        side.set_linewidth(0.9)
    ax.tick_params(axis="both", direction="out", length=3.5, width=0.8,
                   color=AXIS_GREY, labelsize=6, labelcolor=TICK_TEXT)
    ax.tick_params(axis="y", pad=ypad)
    ax.tick_params(axis="x", pad=xpad)


fig = plt.figure(figsize=(7.04, 6.05), dpi=100)

ax_top = fig.add_axes([62 / 704, 1 - 255 / 605, 634 / 704, 242 / 605])
draw_panel(ax_top, interleave(curvature_black, curvature_green, curvature_red),
           (-34.71, -7.07), (-0.043, 1.204),
           [0.0, 0.2, 0.4, 0.6, 0.8, 1.0, 1.2],
           ["0.0", "0.2", "0.4", "0.6", "0.8", "1.0", "1.2"], 4.0, 3.2)

ax_bot = fig.add_axes([51.7 / 704, 1 - 568.3 / 605, 663.3 / 704, 231.6 / 605])
draw_panel(ax_bot, interleave(radius_black, radius_green, radius_red),
           (-34.75, -7.09), (0.797, 3.378),
           [1.0, 1.5, 2.0, 2.5, 3.0],
           ["1.0", "1.5", "2.0", "2.5", "3.0"], 3.0, 2.7)

fig.text(25 / 704, 1 - 133.5 / 605, "Curvature", rotation=90, ha="center",
         va="center", fontsize=10.5)
fig.text(378 / 704, 1 - 290 / 605, "Curvilinear Abscissa", ha="center",
         va="baseline", fontsize=12)
fig.text(16 / 704, 1 - 452 / 605, "Radius", rotation=90, ha="center",
         va="center", fontsize=10.5)
fig.text(383 / 704, 1 - 603 / 605, "Curvilinear Abscissa", ha="center",
         va="baseline", fontsize=12)

fig.savefig("out.png", dpi=100)
